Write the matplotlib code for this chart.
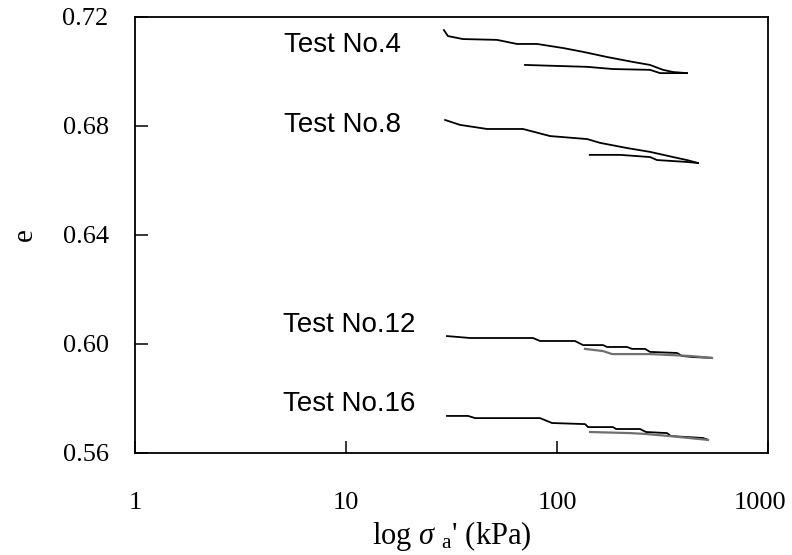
import matplotlib
matplotlib.use('Agg')
import matplotlib.pyplot as plt
import matplotlib.transforms as mtransforms
from matplotlib.ticker import FixedLocator, NullLocator

# e - log(sigma_a') curves, loading and unloading for each test
t4_load_p = [29.1, 30.4, 35.8, 52, 64.6, 80.4, 107, 133, 173, 229, 276, 318, 355, 413]
t4_load_e = [0.7152, 0.7130, 0.7119, 0.7116, 0.7101, 0.7101, 0.7086, 0.7072, 0.7053, 0.7035, 0.7024, 0.7006, 0.6998, 0.6994]
t4_unl_p = [413, 308, 276, 184, 139, 70.5]
t4_unl_e = [0.6994, 0.6994, 0.7006, 0.7009, 0.7017, 0.7024]

t8_load_p = [29.5, 34.7, 46.6, 69, 92.7, 139, 160, 215, 276, 355, 413, 466]
t8_load_e = [0.6822, 0.6804, 0.6789, 0.6789, 0.6763, 0.6752, 0.6738, 0.6719, 0.6705, 0.6686, 0.6675, 0.6664]
t8_unl_p = [466, 413, 298, 276, 199, 143]
t8_unl_e = [0.6664, 0.6668, 0.6675, 0.6686, 0.6694, 0.6694]

t12_load_p = [30.1, 38.7, 76.9, 83.1, 121.7, 132.8, 165.2, 172.6, 214.7, 226.7, 261.3, 276, 370.5, 391.3, 441, 542.8]
t12_load_e = [0.6029, 0.6022, 0.6022, 0.6011, 0.6011, 0.5996, 0.5996, 0.5989, 0.5989, 0.5982, 0.5982, 0.5971, 0.5967, 0.5956, 0.5952, 0.5949]
t12_unl_p = [542.8, 426.9, 276, 182.3, 165.2, 135.7]
t12_unl_e = [0.5949, 0.5956, 0.5963, 0.5963, 0.5974, 0.5982]

t16_load_p = [30.1, 37.9, 40.9, 83.1, 94.7, 135.7, 140.3, 184.3, 190.4, 247.4, 264.1, 332.1, 346.9, 491.9, 519.4]
t16_load_e = [0.5736, 0.5736, 0.5728, 0.5728, 0.5710, 0.5706, 0.5695, 0.5695, 0.5688, 0.5688, 0.5677, 0.5673, 0.5662, 0.5655, 0.5648]
t16_unl_p = [519.4, 343.1, 261.3, 221.8, 143.4]
t16_unl_e = [0.5648, 0.5662, 0.5670, 0.5673, 0.5677]

labels = ['Test No.4', 'Test No.8', 'Test No.12', 'Test No.16']
label_x = [5.1, 5.1, 5.0, 5.0]
label_y = [0.7072, 0.6778, 0.6044, 0.5754]

x_ticks = [1, 10, 100, 1000]
y_ticks = [0.56, 0.60, 0.64, 0.68, 0.72]

plt.rcParams['mathtext.fontset'] = 'custom'
plt.rcParams['mathtext.rm'] = 'Liberation Serif'
plt.rcParams['mathtext.it'] = 'Liberation Serif:italic'

fig = plt.figure(figsize=(7.92, 5.55), dpi=100)
ax = fig.add_axes([0.1705, 0.1838, 0.7992, 0.7856])

ax.plot(t4_load_p, t4_load_e, color='black', lw=1.3)
ax.plot(t4_unl_p, t4_unl_e, color='black', lw=1.3)
ax.plot(t8_load_p, t8_load_e, color='black', lw=1.3)
ax.plot(t8_unl_p, t8_unl_e, color='black', lw=1.3)
ax.plot(t12_load_p, t12_load_e, color='black', lw=1.3)
ax.plot(t12_unl_p, t12_unl_e, color='#707070', lw=1.6)
ax.plot(t16_load_p, t16_load_e, color='black', lw=1.3)
ax.plot(t16_unl_p, t16_unl_e, color='#707070', lw=1.6)

for txt, lx, ly in zip(labels, label_x, label_y):
    ax.text(lx, ly, txt, family='Liberation Sans', fontsize=20, va='baseline', ha='left')

ax.set_xscale('log')
ax.set_xlim(1, 1000)
ax.set_ylim(0.56, 0.72)
ax.xaxis.set_major_locator(FixedLocator(x_ticks))
ax.xaxis.set_minor_locator(NullLocator())
ax.yaxis.set_major_locator(FixedLocator(y_ticks))
ax.set_xticklabels([str(v) for v in x_ticks])
ax.set_yticklabels([f'{v:.2f}' for v in y_ticks])
ax.tick_params(direction='in', length=9, width=1.1, top=False, right=False)
ax.tick_params(axis='x', pad=28)
ax.tick_params(axis='y', pad=19)
for lab in ax.get_xticklabels() + ax.get_yticklabels():
    lab.set_family('Liberation Serif')
    lab.set_fontsize(19)

# keep the last x label inside the figure
last = ax.get_xticklabels()[-1]
last.set_transform(last.get_transform() + mtransforms.ScaledTranslation(-8 / 100, 0, fig.dpi_scale_trans))

for sp in ax.spines.values():
    sp.set_linewidth(1.3)

ax.set_ylabel('e', family='Liberation Serif', fontsize=21, labelpad=18)
ax.set_xlabel(r"log $\sigma$ $_{\rm a}$' (kPa)", family='Liberation Serif', fontsize=22, labelpad=4)

plt.savefig('out.png', dpi=100)
